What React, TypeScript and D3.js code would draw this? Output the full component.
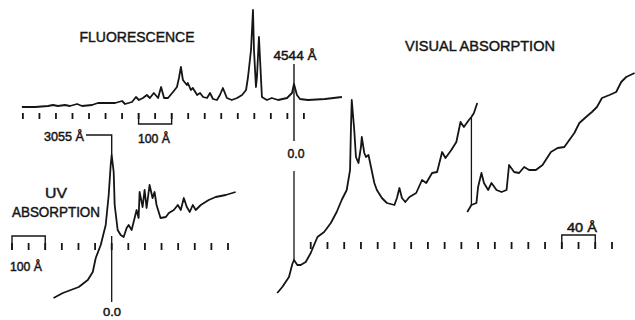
import React from "react";
import * as d3 from "d3";

// Fluorescence: offset from 4544 Å origin (Å), relative intensity
const fluorOffset = [-823,-783,-744,-729,-714,-693,-678,-656,-641,-611,-593,-572,-541,-520,-511,-490,-478,-469,-457,-445,-436,-424,-411,-402,-393,-381,-366,-354,-348,-342,-336,-324,-321,-312,-306,-293,-284,-275,-263,-254,-245,-233,-224,-215,-203,-188,-172,-157,-145,-139,-130,-124,-121,-115,-112,-106,-100,-97,-82,-67,-48,-21,-6,0,9,18,42,94,145];
const fluorIntensity = [3,3,4,5,4,5,4,6,4,5,7,7,7,9,6,8,13,10,12,15,12,17,12,23,12,12,18,23,32,43,30,25,27,20,22,15,17,13,12,17,11,10,15,22,12,10,12,15,20,33,60,100,60,23,33,73,33,13,10,12,10,12,17,26,15,11,10,11,13];

// UV absorption: offset from 3055 Å origin (Å), absorbance (arb.)
const uvOffset = [-175,-147,-123,-99,-72,-57,-48,-33,-18,-9,-3,0,6,9,18,27,36,45,51,60,66,75,81,84,93,99,105,114,123,129,135,147,163,172,187,199,208,217,226,235,244,253,268,292,313,343,373];
const uvAbsorbance = [2,7,10,13,20,28,42,55,75,105,135,145,128,95,70,65,63,72,75,70,78,90,82,108,93,110,92,115,102,108,95,82,83,87,90,95,90,102,93,88,95,90,95,100,103,105,108];

// Visual absorption, first sweep
const visOffsetA = [-20,-14,-6,-2,0,4,8,14,20,28,36,44,51,57,63,67,68,69,72,74,77,80,81,84,86,89,92,96,99,105,111,120,123,126,129,133,138,146,153,158,165,171,177,181,188,194,199,203,209,212,215,219];
const visAbsA = [-23,-17,-7,6,10,5,5,8,17,33,38,47,58,70,80,100,140,170,140,113,107,123,133,117,113,115,103,87,80,72,67,65,72,82,72,68,73,77,90,87,97,98,118,112,120,128,148,143,150,153,157,167];
// Visual absorption, second sweep (after pen reset)
const visOffsetB = [207,212,218,220,224,227,232,236,242,248,254,257,263,269,275,281,289,297,307,315,323,329,335,341,349,356,362,368,377,385,391,397,407];
const visAbsB = [58,65,67,83,97,87,80,87,80,78,80,105,98,97,103,100,100,105,118,122,123,130,137,147,153,158,163,172,175,178,188,193,197];
const visResetAt = 212;
const visResetFrom = 152;
const visResetTo = 65;

// Tick positions (Å offsets)
const fluorTicks = d3.range(-820, 31, 50);
const uvTicks = d3.range(-300, 351, 50);
const visTicks = d3.range(20, 381, 20);

const INK = "#151515";

export default function App() {
  const W = 635, H = 320;
  const fx = d3.scaleLinear().domain([-820, 30]).range([22.9, 303.9]);
  const fy = d3.scaleLinear().domain([0, 100]).range([110, 10]);
  const ux = d3.scaleLinear().domain([-300, 350]).range([12, 228]);
  const uy = d3.scaleLinear().domain([0, 145]).range([300, 155]);
  const vx = d3.scaleLinear().domain([0, 380]).range([294, 612]);
  const vy = d3.scaleLinear().domain([0, 200]).range([270, 70]);

  const line = (xs: number[], ys: number[], sx: any, sy: any) =>
    d3.line<number>().x((_, i) => sx(xs[i])).y((_, i) => sy(ys[i]))(xs) || "";

  const label = { fontFamily: "'Liberation Sans', Arial, sans-serif", fill: INK, stroke: INK, strokeWidth: 0.45 } as const;

  const fTickTop = 113, fTickBot = 119;
  const uTickTop = 243, uTickBot = 250;
  const vTickTop = 242, vTickBot = 249;
  const TW = 1.8;

  return (
    <svg width={W} height={H} style={{ position: "absolute", left: 0, top: 0, background: "#fff" }}>
      <rect width={W} height={H} fill="#fff" />
      {/* Fluorescence */}
      <path d={line(fluorOffset, fluorIntensity, fx, fy)} fill="none" stroke={INK} strokeWidth={TW} strokeLinejoin="round" />
      {fluorTicks.map((t) => (
        <line key={"ft" + t} x1={fx(t)} x2={fx(t)} y1={fTickTop} y2={fTickBot} stroke={INK} strokeWidth={1.8} />
      ))}
      <path d={`M${fx(-470)},${fTickTop}V124H${fx(-370)}V${fTickTop}`} fill="none" stroke={INK} strokeWidth={1.4} />
      <line x1={fx(0)} x2={fx(0)} y1={64} y2={141} stroke={INK} strokeWidth={1.4} />
      <text x={137} y={42} fontSize={15} textAnchor="middle" textLength={115} lengthAdjust="spacingAndGlyphs" {...label}>FLUORESCENCE</text>
      <text x={295} y={60} fontSize={12} textAnchor="middle" textLength={43} lengthAdjust="spacingAndGlyphs" {...label}>4544 Å</text>
      <text x={154} y={143} fontSize={12} textAnchor="middle" textLength={32} lengthAdjust="spacingAndGlyphs" {...label}>100 Å</text>
      <text x={296} y={158} fontSize={12} textAnchor="middle" textLength={17} lengthAdjust="spacingAndGlyphs" {...label}>0.0</text>

      {/* UV absorption */}
      <path d={line(uvOffset, uvAbsorbance, ux, uy)} fill="none" stroke={INK} strokeWidth={TW} strokeLinejoin="round" />
      {uvTicks.map((t) => (
        <line key={"ut" + t} x1={ux(t)} x2={ux(t)} y1={uTickTop} y2={uTickBot} stroke={INK} strokeWidth={1.8} />
      ))}
      <path d={`M${ux(-300)},${uTickBot}V236H${ux(-200)}V${uTickBot}`} fill="none" stroke={INK} strokeWidth={1.4} />
      <path d={`M86,135H${ux(0)}V155`} fill="none" stroke={INK} strokeWidth={1.4} />
      <line x1={ux(0)} x2={ux(0)} y1={236} y2={302} stroke={INK} strokeWidth={1.3} />
      <text x={64} y={141} fontSize={12} textAnchor="middle" textLength={40} lengthAdjust="spacingAndGlyphs" {...label}>3055 Å</text>
      <text x={56} y={198} fontSize={15} textAnchor="middle" textLength={22} lengthAdjust="spacingAndGlyphs" {...label}>UV</text>
      <text x={56} y={217} fontSize={14} textAnchor="middle" textLength={88} lengthAdjust="spacingAndGlyphs" {...label}>ABSORPTION</text>
      <text x={26} y={271} fontSize={12} textAnchor="middle" textLength={32} lengthAdjust="spacingAndGlyphs" {...label}>100 Å</text>
      <text x={112} y={316} fontSize={11} textAnchor="middle" textLength={18} lengthAdjust="spacingAndGlyphs" {...label}>0.0</text>

      {/* Visual absorption */}
      <path d={line(visOffsetA, visAbsA, vx, vy)} fill="none" stroke={INK} strokeWidth={TW} strokeLinejoin="round" />
      <line x1={vx(visResetAt)} x2={vx(visResetAt)} y1={vy(visResetFrom)} y2={vy(visResetTo)} stroke={INK} strokeWidth={1.3} />
      <path d={line(visOffsetB, visAbsB, vx, vy)} fill="none" stroke={INK} strokeWidth={TW} strokeLinejoin="round" />
      {visTicks.map((t) => (
        <line key={"vt" + t} x1={vx(t)} x2={vx(t)} y1={vTickTop} y2={vTickBot} stroke={INK} strokeWidth={1.8} />
      ))}
      <path d={`M${vx(320)},${vTickBot}V235H${vx(360)}V${vTickBot}`} fill="none" stroke={INK} strokeWidth={1.4} />
      <line x1={vx(0)} x2={vx(0)} y1={171} y2={262} stroke={INK} strokeWidth={1.3} />
      <text x={480} y={51} fontSize={15} textAnchor="middle" textLength={150} lengthAdjust="spacingAndGlyphs" {...label}>VISUAL ABSORPTION</text>
      <text x={582} y={232} fontSize={12} textAnchor="middle" textLength={30} lengthAdjust="spacingAndGlyphs" {...label}>40 Å</text>
    </svg>
  );
}
